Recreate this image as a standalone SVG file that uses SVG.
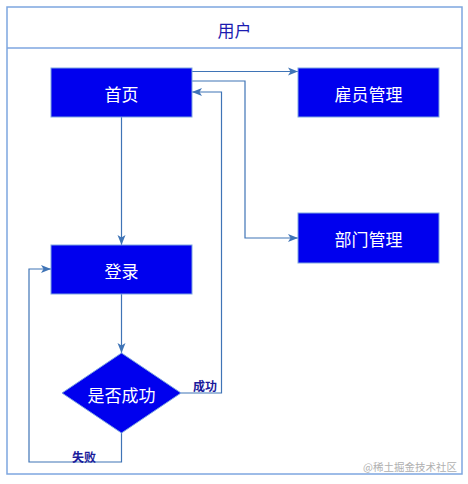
<svg xmlns="http://www.w3.org/2000/svg" width="468" height="484" viewBox="0 0 468 484">
<defs>
<marker id="arr" viewBox="0 0 10 10" refX="10" refY="5" markerWidth="10" markerHeight="10" markerUnits="userSpaceOnUse" orient="auto">
<path d="M0,1 L10,5 L0,9 L2.5,5 Z" fill="#3f74b6"/>
</marker>
</defs>
<style>
.box{fill:#0000ee;stroke:#7ea6e0;stroke-width:1}
.nt{fill:#ffffff;font-family:"Noto Sans CJK SC","Noto Sans",sans-serif;font-size:17px;text-anchor:middle;dominant-baseline:central}
.ln{fill:none;stroke:#3f74b6;stroke-width:1.2;marker-end:url(#arr)}
.lb{fill:#1b1b9b;font-family:"Noto Sans CJK SC","Noto Sans",sans-serif;font-size:12px;font-weight:bold;dominant-baseline:central}
</style>
<rect width="468" height="484" fill="#ffffff"/>
<g id="pool">
<rect x="7" y="7" width="455" height="467" fill="#ffffff" stroke="#7ea6e0" stroke-width="1.5"/>
<line x1="7" y1="48" x2="462" y2="48" stroke="#7ea6e0" stroke-width="1.5"/>
<text x="234.5" y="29" fill="#1b1bb0" font-family="'Noto Sans CJK SC','Noto Sans',sans-serif" font-size="17" text-anchor="middle" dominant-baseline="central">用户</text>
</g>
<g id="connectors">
<path class="ln" d="M192,71.5 L298,71.5"/>
<path class="ln" d="M192,81 L245,81 L245,238 L298,238"/>
<path class="ln" d="M181,393 L221.5,393 L221.5,92 L192,92"/>
<path class="ln" d="M121.5,117 L121.5,245"/>
<path class="ln" d="M121.5,294 L121.5,353"/>
<path class="ln" d="M121.5,433 L121.5,462 L29,462 L29,269 L51,269"/>
<text class="lb" x="193" y="385">成功</text>
<text class="lb" x="72" y="456">失败</text>
</g>
<g id="home">
<rect class="box" x="51" y="68" width="141" height="49"/>
<text class="nt" x="121.5" y="93">首页</text>
</g>
<g id="employee">
<rect class="box" x="298" y="68" width="141" height="49"/>
<text class="nt" x="368.5" y="93">雇员管理</text>
</g>
<g id="dept">
<rect class="box" x="298" y="213" width="141" height="50"/>
<text class="nt" x="368.5" y="238">部门管理</text>
</g>
<g id="login">
<rect class="box" x="51" y="245" width="141" height="49"/>
<text class="nt" x="121.5" y="270">登录</text>
</g>
<g id="decision">
<path class="box" d="M121.5,353 L181,393 L121.5,433 L62,393 Z"/>
<text class="nt" x="121.5" y="394">是否成功</text>
</g>
<text x="457" y="466" fill="#b0b0b0" font-family="'Noto Sans CJK SC','Noto Sans',sans-serif" font-size="10.5" text-anchor="end" dominant-baseline="central">@稀土掘金技术社区</text>
</svg>
